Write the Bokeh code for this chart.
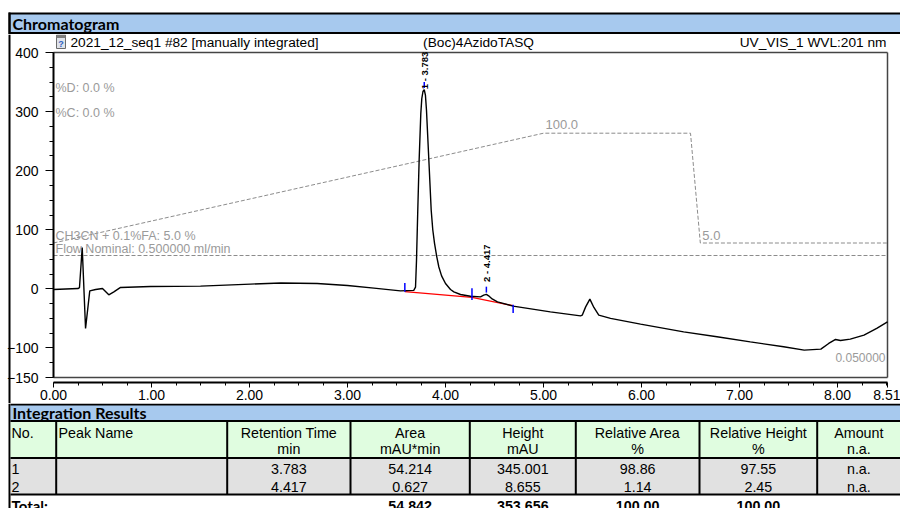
import numpy as np
from math import pi
from bokeh.plotting import figure
from bokeh.models import Range1d, FixedTicker, NumeralTickFormatter
from bokeh.layouts import column
from bokeh.core.properties import value
from bokeh.embed import file_html
from bokeh.resources import INLINE

# ------------------------------------------------------------------ data
time_min = [0.00, 0.25, 0.265, 0.293, 0.327, 0.37, 0.43, 0.50, 0.564, 0.616, 0.684,
            0.99, 1.50, 2.01, 2.32, 2.69, 3.00, 3.27, 3.54, 3.676, 3.694, 3.704,
            3.717, 3.731, 3.748, 3.758, 3.770, 3.783, 3.795, 3.806, 3.830, 3.854,
            3.870, 3.888, 3.910, 3.932, 3.960, 4.000, 4.051, 4.085, 4.153, 4.255,
            4.357, 4.390, 4.417, 4.440, 4.476, 4.530, 4.690, 5.070, 5.378, 5.395,
            5.430, 5.473, 5.514, 5.564, 5.684, 5.990, 6.430, 6.770, 7.110, 7.450,
            7.660, 7.830, 7.910, 7.980, 8.030, 8.130, 8.270, 8.400, 8.510]
signal_mau = [-1.0, 0.5, 2.0, 70.0, -67.0, -3.5, -1.0, 0.7, -10.0, -5.0, 2.4,
              4.0, 4.6, 8.0, 10.0, 9.0, 5.7, 1.2, -3.4, -2.5, 3.0, 48.0,
              133.0, 218.0, 297.0, 322.0, 334.0, 337.0, 328.0, 302.0, 218.0, 133.0,
              100.0, 77.0, 55.0, 37.0, 22.0, 9.0, -1.0, -5.0, -9.5, -12.5,
              -13.5, -10.7, -9.3, -11.8, -17.0, -22.0, -29.3, -39.0, -45.7, -44.5,
              -30.5, -17.4, -31.5, -44.5, -50.0, -59.7, -72.8, -81.0, -89.7, -98.0,
              -103.7, -102.0, -92.4, -85.6, -87.3, -85.0, -78.3, -67.0, -55.8]

grad_time = [0.0, 5.0, 6.5, 6.6, 8.51]
grad_pct_b = [5.0, 100.0, 100.0, 5.0, 5.0]
flow_time = [0.0, 8.51]
flow_ml_min = [0.5, 0.5]

baseline_time = [3.585, 4.27, 4.69]
baseline_mau = [-4.5, -14.5, -28.5]
delim_time = [3.585, 4.27, 4.69]
delim_lo = [-5.0, -19.0, -41.0]
delim_hi = [10.0, 1.0, -27.0]

peak_no = [1, 2]
peak_rt = [3.783, 4.417]
peak_apex = [337.0, -9.3]
peak_area = [54.214, 0.627]
peak_height = [345.001, 8.655]
rel_area = [98.86, 1.14]
rel_height = [97.55, 2.45]
amount = ["n.a.", "n.a."]
total_area = 54.842
total_height = 353.656
total_rel_area = 100.00
total_rel_height = 100.00

x_major = [0, 1, 2, 3, 4, 5, 6, 7, 8, 8.51]
y_major = [-150, -100, 0, 100, 200, 300, 400]
X_MAX = 8.51
Y_MIN, Y_MAX = -150, 400

title_left = "2021_12_seq1 #82 [manually integrated]"
title_mid = "(Boc)4AzidoTASQ"
title_right = "UV_VIS_1 WVL:201 nm"

header_line1 = ["No.", "Peak Name", "Retention Time", "Area", "Height",
                "Relative Area", "Relative Height", "Amount"]
header_line2 = ["", "", "min", "mAU*min", "mAU", "%", "%", "n.a."]

# ------------------------------------------------------------------ style / page geometry
ARIAL = "Liberation Sans"
TITLE_FONT = "Lato"
BLUE_BAR = "#a7c9ee"
GREEN = "#e0fde0"
GREY_ROW = "#e1e1e1"
ANNOT = "#9a9a9a"

PAGE_W = 900
CHART_TOP, CHART_BOTTOM = 34, 403          # page rows covered by the chart figure
BOX_LEFT, BOX_RIGHT = 53, 887              # page columns of t = 0 and t = X_MAX
BOX_TOP, BOX_BOTTOM = 52, 377              # page rows of Y_MAX and Y_MIN
PX_PER_MIN = (BOX_RIGHT - BOX_LEFT) / X_MAX
PX_PER_MAU = (BOX_BOTTOM - BOX_TOP) / (Y_MAX - Y_MIN)


def t_at(px):
    return (px - BOX_LEFT) / PX_PER_MIN


def mau_at(py):
    return Y_MAX - (py - BOX_TOP) / PX_PER_MAU


def bare(fig):
    fig.grid.visible = False
    fig.outline_line_color = None
    return fig


# ------------------------------------------------------------------ header bar
head = bare(figure(width=PAGE_W, height=CHART_TOP, x_range=Range1d(0, PAGE_W),
                   y_range=Range1d(CHART_TOP, 0), min_border=0, min_border_left=0,
                   min_border_right=0, min_border_top=0, min_border_bottom=0,
                   x_axis_location=None, y_axis_location=None,
                   toolbar_location=None, output_backend="svg"))
head.quad(left=[8], right=[PAGE_W], top=[12], bottom=[33.5], fill_color="black", line_color=None)
head.quad(left=[10], right=[PAGE_W], top=[14], bottom=[31.5], fill_color=BLUE_BAR, line_color=None)
head.quad(left=[8], right=[10], top=[12], bottom=[CHART_TOP], fill_color="black", line_color=None)
head.text(x=[12], y=[23], text=["Chromatogram"], text_font=value(TITLE_FONT),
          text_font_style="bold", text_font_size="16px", text_baseline="middle",
          text_color="black")

# ------------------------------------------------------------------ chromatogram
p = figure(width=PAGE_W, height=CHART_BOTTOM - CHART_TOP,
           x_range=Range1d(t_at(0), t_at(PAGE_W)),
           y_range=Range1d(mau_at(CHART_BOTTOM), mau_at(CHART_TOP)),
           min_border=0, min_border_left=0, min_border_right=0, min_border_top=0,
           min_border_bottom=0, toolbar_location=None, output_backend="svg")

PCT_LO_ROW, PCT_HI_ROW = 242.5, 132.7       # page rows of 5 % and 100 % B
PCT_PER_PX = 95 / (PCT_LO_ROW - PCT_HI_ROW)


def pct_at(py):
    return 100 - (py - PCT_HI_ROW) * PCT_PER_PX


def flow_at(py):  # flow 0.5 ml/min at page row 255
    return 0.5 * (CHART_BOTTOM - py) / (CHART_BOTTOM - 255)


p.extra_y_ranges = {"pctB": Range1d(pct_at(CHART_BOTTOM), pct_at(CHART_TOP)),
                    "flow": Range1d(flow_at(CHART_BOTTOM), flow_at(CHART_TOP))}
p.grid.visible = False
p.outline_line_color = None

p.xaxis.ticker = FixedTicker(ticks=x_major, minor_ticks=list(np.arange(0, 8.51, 0.25)))
p.xaxis.formatter = NumeralTickFormatter(format="0.00")
p.yaxis.ticker = FixedTicker(ticks=y_major, minor_ticks=list(range(-150, 401, 25)))
p.yaxis.bounds = (Y_MIN, Y_MAX)
p.xaxis.bounds = (0, X_MAX)
p.yaxis.fixed_location = 0
p.xaxis.fixed_location = mau_at(382)
for ax in (p.xaxis[0], p.yaxis[0]):
    ax.axis_line_color = "black"
    ax.axis_line_width = 2
    ax.major_tick_line_color = "black"
    ax.minor_tick_line_color = "black"
    ax.major_tick_in = 0
    ax.minor_tick_in = 0
    ax.major_label_text_font = ARIAL
    ax.major_label_text_font_size = "14px"
    ax.major_label_text_color = "black"
p.yaxis.major_tick_out = 8
p.yaxis.minor_tick_out = 4
p.xaxis.major_tick_out = 5
p.xaxis.minor_tick_out = 3
p.xaxis.major_label_standoff = 2
p.yaxis.major_label_standoff = 7

# page left border
p.quad(left=[t_at(8)], right=[t_at(10)], top=[mau_at(CHART_TOP)], bottom=[mau_at(CHART_BOTTOM)],
       fill_color="black", line_color=None)
# plot box
p.segment(x0=[0, X_MAX, 0], y0=[Y_MAX, Y_MIN, Y_MIN], x1=[X_MAX, X_MAX, X_MAX],
          y1=[Y_MAX, Y_MAX, Y_MIN], color="#444444", line_width=1.5)

# title row above the box
y_title = mau_at(41.5)
p.text(x=[0, X_MAX / 2, X_MAX], y=[y_title] * 3, text=[title_left, title_mid, title_right],
       x_offset=[17, 8, -1], text_align=["left", "center", "right"], text_baseline="middle",
       text_font=value(ARIAL), text_font_size="13.7px", text_color="black")
# small file icon
p.quad(left=[t_at(56)], right=[t_at(65)], top=[mau_at(34.5)], bottom=[mau_at(48)],
       fill_color="#dfe3ea", line_color="#6b6b6b", line_width=1)
p.quad(left=[t_at(56)], right=[t_at(65)], top=[mau_at(34.5)], bottom=[mau_at(37.5)],
       fill_color="#7f7f7f", line_color=None)
p.text(x=[t_at(60.5)], y=[mau_at(43)], text=["?"], text_font=value(ARIAL),
       text_font_style="bold", text_font_size="9px", text_align="center",
       text_baseline="middle", text_color="#3060c0")

dash = "4 2"
p.line(grad_time, grad_pct_b, y_range_name="pctB", color="#8c8c8c", line_width=1, line_dash=dash)
p.line(flow_time, flow_ml_min, y_range_name="flow", color="#8c8c8c", line_width=1, line_dash=dash)

p.text(x=[t_at(55)] * 4, y=[mau_at(87), mau_at(112), mau_at(235), mau_at(248)],
       text=["%D: 0.0 %", "%C: 0.0 %", "CH3CN + 0.1%FA: 5.0 %", "Flow Nominal: 0.500000 ml/min"],
       text_font=value(ARIAL), text_font_size="12.5px", text_color=ANNOT, text_baseline="middle")
# step labels of the gradient, floated ~8 px above the step
p.text(x=[grad_time[1], grad_time[3]],
       y=[grad_pct_b[1] + 8.5 * PCT_PER_PX, grad_pct_b[3] + 7.5 * PCT_PER_PX],
       text=[f"{grad_pct_b[1]:.1f}", f"{grad_pct_b[3]:.1f}"], y_range_name="pctB",
       x_offset=2, text_font=value(ARIAL), text_font_size="13px", text_color=ANNOT,
       text_baseline="middle")
p.text(x=[X_MAX], y=[mau_at(357)], text=["0.050000"], x_offset=-2, text_align="right",
       text_baseline="middle", text_font=value(ARIAL), text_font_size="12px", text_color=ANNOT)

p.line(baseline_time, baseline_mau, color="red", line_width=1.3)
p.line(time_min, signal_mau, color="black", line_width=1.4)
p.segment(x0=delim_time, y0=delim_lo, x1=delim_time, y1=delim_hi, color="blue", line_width=1.5)
p.segment(x0=peak_rt, y0=[a + 3 for a in peak_apex], x1=peak_rt,
          y1=[a + 13 for a in peak_apex], color="blue", line_width=1.5)
p.text(x=peak_rt, y=[min(a + 21, 338) for a in peak_apex],
       text=[f"{n} - {rt:.3f}" for n, rt in zip(peak_no, peak_rt)], angle=pi / 2,
       text_align="left", text_baseline="middle", text_font=value(ARIAL),
       text_font_style="bold", text_font_size="9.5px", text_color="black")

# ------------------------------------------------------------------ table
tbl = bare(figure(width=PAGE_W, height=508 - CHART_BOTTOM, x_range=Range1d(0, PAGE_W),
                  y_range=Range1d(508, CHART_BOTTOM), min_border=0, min_border_left=0,
                  min_border_right=0, min_border_top=0, min_border_bottom=0,
                  x_axis_location=None, y_axis_location=None,
                  toolbar_location=None, output_backend="svg"))
col_edges = [10, 55.7, 226.7, 350, 469.3, 575.3, 699, 816.7, PAGE_W]
col_center = [(a + b) / 2 for a, b in zip(col_edges[:-1], col_edges[1:])]
col_x = [11, 58] + col_center[2:]
col_align = ["left", "left"] + ["center"] * 6

tbl.quad(left=[8], right=[10], top=[CHART_BOTTOM], bottom=[508], fill_color="black", line_color=None)
tbl.quad(left=[10], right=[PAGE_W], top=[CHART_BOTTOM], bottom=[495], fill_color="black", line_color=None)
tbl.quad(left=[10], right=[PAGE_W], top=[405], bottom=[419.5], fill_color=BLUE_BAR, line_color=None)
tbl.quad(left=[10], right=[PAGE_W], top=[421.5], bottom=[456.5], fill_color=GREEN, line_color=None)
tbl.quad(left=[10], right=[PAGE_W], top=[458.5], bottom=[493], fill_color=GREY_ROW, line_color=None)
tbl.segment(x0=col_edges[1:-1], y0=[420] * 7, x1=col_edges[1:-1], y1=[494] * 7,
            color="black", line_width=2)

tbl.text(x=[12], y=[412], text=["Integration Results"], text_font=value(TITLE_FONT),
         text_font_style="bold", text_font_size="16px", text_baseline="middle", text_color="black")

tbl.text(x=col_x, y=[432] * 8, text=header_line1, text_align=col_align, text_baseline="middle",
         text_font=value(ARIAL), text_font_size="14.3px", text_color="black")
tbl.text(x=col_x, y=[448.5] * 8, text=header_line2, text_align=col_align, text_baseline="middle",
         text_font=value(ARIAL), text_font_size="14.3px", text_color="black")

for i, ry in enumerate([468.5, 486]):
    cells = [str(peak_no[i]), "", f"{peak_rt[i]:.3f}", f"{peak_area[i]:.3f}",
             f"{peak_height[i]:.3f}", f"{rel_area[i]:.2f}", f"{rel_height[i]:.2f}", amount[i]]
    tbl.text(x=col_x, y=[ry] * 8, text=cells, text_align=col_align, text_baseline="middle",
             text_font=value(ARIAL), text_font_size="14.3px", text_color="black")

tot_cells = ["", "", "", f"{total_area:.3f}", f"{total_height:.3f}",
             f"{total_rel_area:.2f}", f"{total_rel_height:.2f}", ""]
tbl.text(x=col_x, y=[505] * 8, text=tot_cells, text_align=col_align, text_baseline="middle",
         text_font=value(ARIAL), text_font_style="bold", text_font_size="14.3px", text_color="black")
tbl.text(x=[11], y=[505], text=["Total:"], text_baseline="middle", text_font=value(TITLE_FONT),
         text_font_style="bold", text_font_size="15px", text_color="black")

layout = column(head, p, tbl, spacing=0)

open("out.html", "w").write(file_html(layout, INLINE))
